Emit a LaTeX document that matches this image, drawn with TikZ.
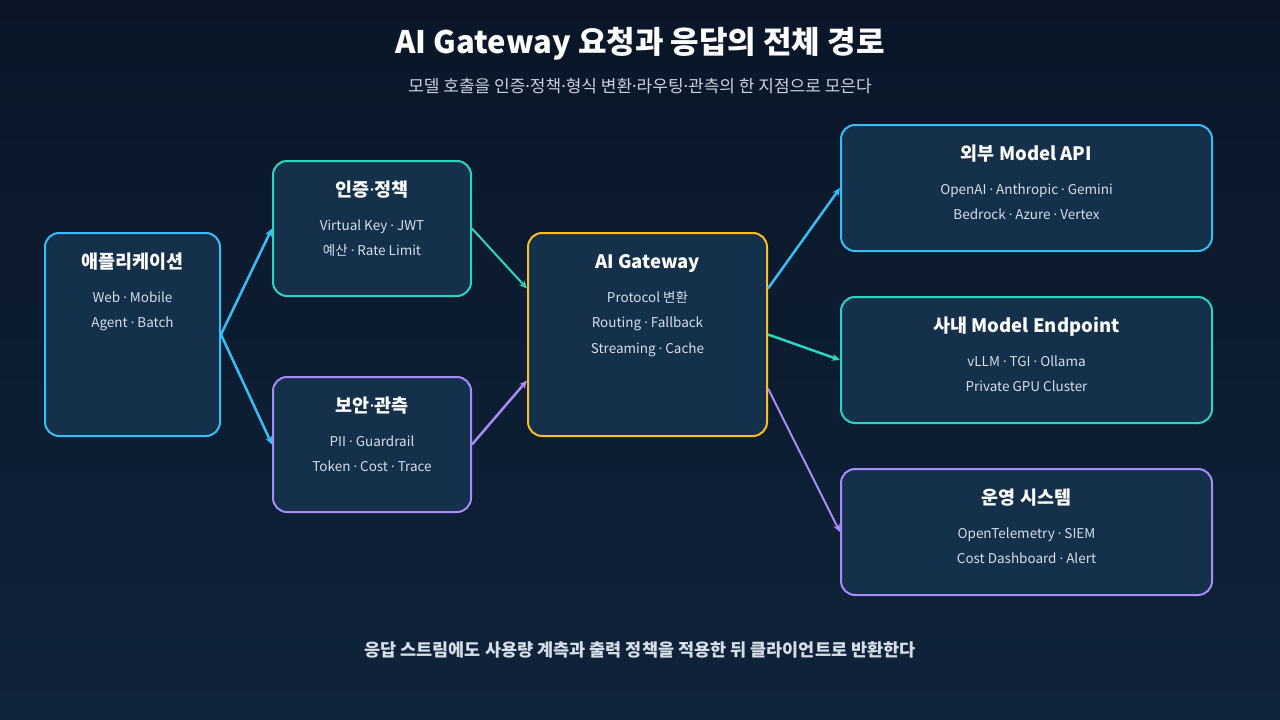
\documentclass[tikz,border=0pt]{standalone}
\usepackage{fontspec}
\setmainfont{Noto Sans CJK KR}
\newfontfamily\dotfont{Noto Sans}
\newcommand{\md}{{\dotfont ·}}
\usetikzlibrary{arrows.meta}
\definecolor{bgtop}{HTML}{0A1628}
\definecolor{bgbot}{HTML}{0F233A}
\definecolor{boxfill}{HTML}{14304B}
\definecolor{skyc}{HTML}{38BDF8}
\definecolor{tealc}{HTML}{2DD4BF}
\definecolor{purpc}{HTML}{A78BFA}
\definecolor{ambc}{HTML}{FBBF24}
\definecolor{bodyc}{HTML}{D5DEE8}
\definecolor{subc}{HTML}{C9D3DF}

\begin{document}
\begin{tikzpicture}[x=1pt,y=-1pt]
    \tikzstyle{box}=[draw, line width=2pt, fill=boxfill, rounded corners=14pt, shape=rectangle, inner sep=0pt]
    \tikzstyle{small box}=[style=box, minimum width=198pt, minimum height=135pt]
    \tikzstyle{big box}=[style=box, minimum width=371pt, minimum height=126pt]
    \tikzstyle{boxtitle}=[text=white, text height=13pt, text depth=4pt, font=\bfseries\fontsize{18.5}{22}\selectfont]
    \tikzstyle{boxtext}=[text=bodyc, text height=9.5pt, text depth=3pt, font=\fontsize{13.5}{16}\selectfont]
    \tikzstyle{arrow}=[-{Stealth[length=8pt,width=7pt]}, line width=2.5pt]
    %\tikzstyle{arrow}=[->, thick]

    \shade [top color=bgtop, bottom color=bgbot] (0,0) rectangle (1280,720);

    \node [text=white, text height=22pt, text depth=6pt, font=\bfseries\fontsize{31}{36}\selectfont] (title) at (640,45) {AI Gateway 요청과 응답의 전체 경로};
    \node [text=subc, font=\fontsize{17}{20}\selectfont] (sub) at (640,86) {모델 호출을 인증\md 정책\md 형식 변환\md 라우팅\md 관측의 한 지점으로 모은다};

    \node [style=box, draw=skyc, minimum width=175pt, minimum height=203pt] (app) at (132.5,334.5) {};
    \node [style=small box, draw=tealc] (auth) at (372,228.5) {};
    \node [style=small box, draw=purpc] (sec) at (372,444.5) {};
    \node [style=box, draw=ambc, minimum width=239pt, minimum height=203pt] (gw) at (647.5,334.5) {};
    \node [style=big box, draw=skyc] (ext) at (1026.5,188) {};
    \node [style=big box, draw=tealc] (int) at (1026.5,360) {};
    \node [style=big box, draw=purpc] (ops) at (1026.5,532) {};

    \node [style=boxtitle] at ([yshift=-32pt]app.north) {애플리케이션};
    \node [style=boxtext] at ([yshift=-67pt]app.north) {Web \md{} Mobile};
    \node [style=boxtext] at ([yshift=-92pt]app.north) {Agent \md{} Batch};

    \node [style=boxtitle] at ([yshift=-32pt]auth.north) {인증\md 정책};
    \node [style=boxtext] at ([yshift=-67pt]auth.north) {Virtual Key \md{} JWT};
    \node [style=boxtext] at ([yshift=-92pt]auth.north) {예산 \md{} Rate Limit};

    \node [style=boxtitle] at ([yshift=-32pt]sec.north) {보안\md 관측};
    \node [style=boxtext] at ([yshift=-67pt]sec.north) {PII \md{} Guardrail};
    \node [style=boxtext] at ([yshift=-92pt]sec.north) {Token \md{} Cost \md{} Trace};

    \node [style=boxtitle] at ([yshift=-32pt]gw.north) {AI Gateway};
    \node [style=boxtext] at ([yshift=-67pt]gw.north) {Protocol 변환};
    \node [style=boxtext] at ([yshift=-92pt]gw.north) {Routing \md{} Fallback};
    \node [style=boxtext] at ([yshift=-118pt]gw.north) {Streaming \md{} Cache};

    \node [style=boxtitle] at ([yshift=-32pt]ext.north) {외부 Model API};
    \node [style=boxtext] at ([yshift=-67pt]ext.north) {OpenAI \md{} Anthropic \md{} Gemini};
    \node [style=boxtext] at ([yshift=-92pt]ext.north) {Bedrock \md{} Azure \md{} Vertex};

    \node [style=boxtitle] at ([yshift=-32pt]int.north) {사내 Model Endpoint};
    \node [style=boxtext] at ([yshift=-67pt]int.north) {vLLM \md{} TGI \md{} Ollama};
    \node [style=boxtext] at ([yshift=-92pt]int.north) {Private GPU Cluster};

    \node [style=boxtitle] at ([yshift=-32pt]ops.north) {운영 시스템};
    \node [style=boxtext] at ([yshift=-67pt]ops.north) {OpenTelemetry \md{} SIEM};
    \node [style=boxtext] at ([yshift=-92pt]ops.north) {Cost Dashboard \md{} Alert};

    \draw [style=arrow, skyc] (app.east) to (auth.west);
    \draw [style=arrow, skyc] (app.east) to (sec.west);
    \draw [style=arrow, tealc, line width=2pt] (auth.east) to ([yshift=46pt]gw.west);
    \draw [style=arrow, purpc] (sec.east) to ([yshift=-46pt]gw.west);
    \draw [style=arrow, skyc] ([yshift=46pt]gw.east) to (ext.west);
    \draw [style=arrow, tealc] (gw.east) to (int.west);
    \draw [style=arrow, purpc, line width=2pt] ([yshift=-54pt]gw.east) to (ops.west);

    \node [text=bodyc, font=\bfseries\fontsize{17.5}{21}\selectfont] (foot) at (640,650) {응답 스트림에도 사용량 계측과 출력 정책을 적용한 뒤 클라이언트로 반환한다};
\end{tikzpicture}
\end{document}
